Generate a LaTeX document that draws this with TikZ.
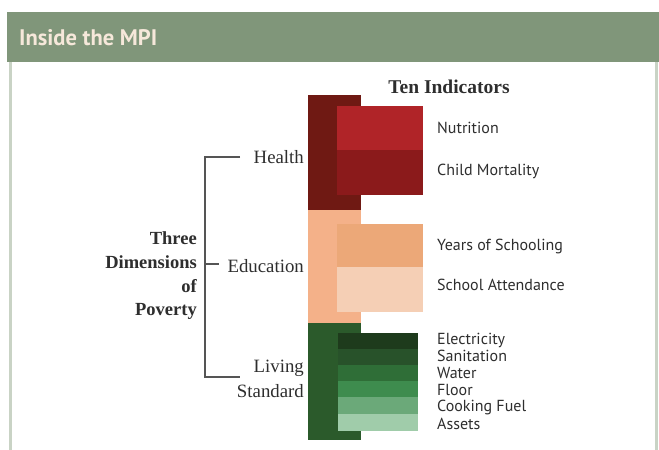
\documentclass[tikz,border=0pt]{standalone}
\usepackage{fontspec}
\setmainfont{Liberation Serif}
\setsansfont{PT Sans}
\definecolor{headbg}{HTML}{80967A}
\definecolor{headtxt}{HTML}{F6E8DA}
\definecolor{framec}{HTML}{C9D3C5}
\definecolor{ink}{HTML}{2E2E2E}
\definecolor{bracketc}{HTML}{555555}
\definecolor{hdark}{HTML}{6F1913}
\definecolor{hnut}{HTML}{B02428}
\definecolor{hchild}{HTML}{8B1A1B}
\definecolor{edark}{HTML}{F4B189}
\definecolor{eyears}{HTML}{ECA878}
\definecolor{eattend}{HTML}{F5CFB5}
\definecolor{ldark}{HTML}{2B5A2B}
\definecolor{lelec}{HTML}{1E3B1C}
\definecolor{lsanit}{HTML}{28522A}
\definecolor{lwater}{HTML}{2F6E37}
\definecolor{lfloor}{HTML}{3E8C4E}
\definecolor{lcook}{HTML}{6BA979}
\definecolor{lassets}{HTML}{A0CCAA}
\begin{document}
\begin{tikzpicture}[x=1pt,y=-1pt,
  indlabel/.style={anchor=west,inner sep=0pt,text=ink,font=\sffamily\fontsize{16}{17}\selectfont},
  dimlabel/.style={anchor=east,inner sep=0pt,text=ink,font=\rmfamily\fontsize{18.8}{25}\selectfont},
  bracket/.style={draw=bracketc,line width=2.4pt}]
\useasboundingbox (0,0) rectangle (659,450);
\fill[white] (0,0) rectangle (659,450);

% frame and title band
\fill[framec] (8.5,62) rectangle (11.5,450);
\fill[framec] (655,62) rectangle (658,450);
\fill[headbg] (7,12) rectangle (659,62);
\node[anchor=base west,inner sep=0pt,text=headtxt,font=\sffamily\bfseries\fontsize{22.5}{24}\selectfont] (title) at (19,45.5) {Inside the MPI};

% heading of the indicator column
\node[anchor=base,inner sep=0pt,text=ink,font=\rmfamily\bfseries\fontsize{19.5}{21}\selectfont] (ten) at (449,93) {Ten Indicators};

% health
\fill[hdark] (308,95) rectangle (361,210);
\fill[hnut] (337,106) rectangle (423,150);
\fill[hchild] (337,150) rectangle (423,195);
% education
\fill[edark] (308,210) rectangle (361,323);
\fill[eyears] (337,224) rectangle (423,267);
\fill[eattend] (337,267) rectangle (423,312);
% living standard
\fill[ldark] (308,323) rectangle (361,440);
\fill[lelec] (338,333) rectangle (418,349);
\fill[lsanit] (338,349) rectangle (418,365);
\fill[lwater] (338,365) rectangle (418,381);
\fill[lfloor] (338,381) rectangle (418,397);
\fill[lcook] (338,397) rectangle (418,414);
\fill[lassets] (338,414) rectangle (418,431);

% indicator labels
\node[indlabel] (nut) at (437,128) {Nutrition};
\node[indlabel] (child) at (437,171) {Child Mortality};
\node[indlabel] (years) at (437,246) {Years of Schooling};
\node[indlabel] (attend) at (437,285) {School Attendance};
\node[indlabel] (elec) at (437,340) {Electricity};
\node[indlabel] (sanit) at (437,356) {Sanitation};
\node[indlabel] (water) at (437,373) {Water};
\node[indlabel] (floor) at (437,390) {Floor};
\node[indlabel] (cook) at (437,407) {Cooking Fuel};
\node[indlabel] (assets) at (437,424) {Assets};

% dimension labels
\node[dimlabel] (health) at (304,157) {Health};
\node[dimlabel] (edu) at (304,266) {Education};
\node[dimlabel,align=right] (living) at (304,379) {Living\\Standard};
\node[dimlabel,align=right,font=\rmfamily\bfseries\fontsize{18.5}{23.7}\selectfont] (three) at (197,276) {Three\\Dimensions\\of\\Poverty};

% bracket joining the three dimensions
\coordinate (btop) at (205,157);
\coordinate (bmid) at (205,264);
\coordinate (bbot) at (205,377);
\coordinate (htick) at (240,157);
\coordinate (etick) at (219,264);
\coordinate (ltick) at (240,377);
\draw[bracket] (htick) -- (btop) -- (bbot) -- (ltick);
\draw[bracket] (bmid) -- (etick);
\end{tikzpicture}
\end{document}
